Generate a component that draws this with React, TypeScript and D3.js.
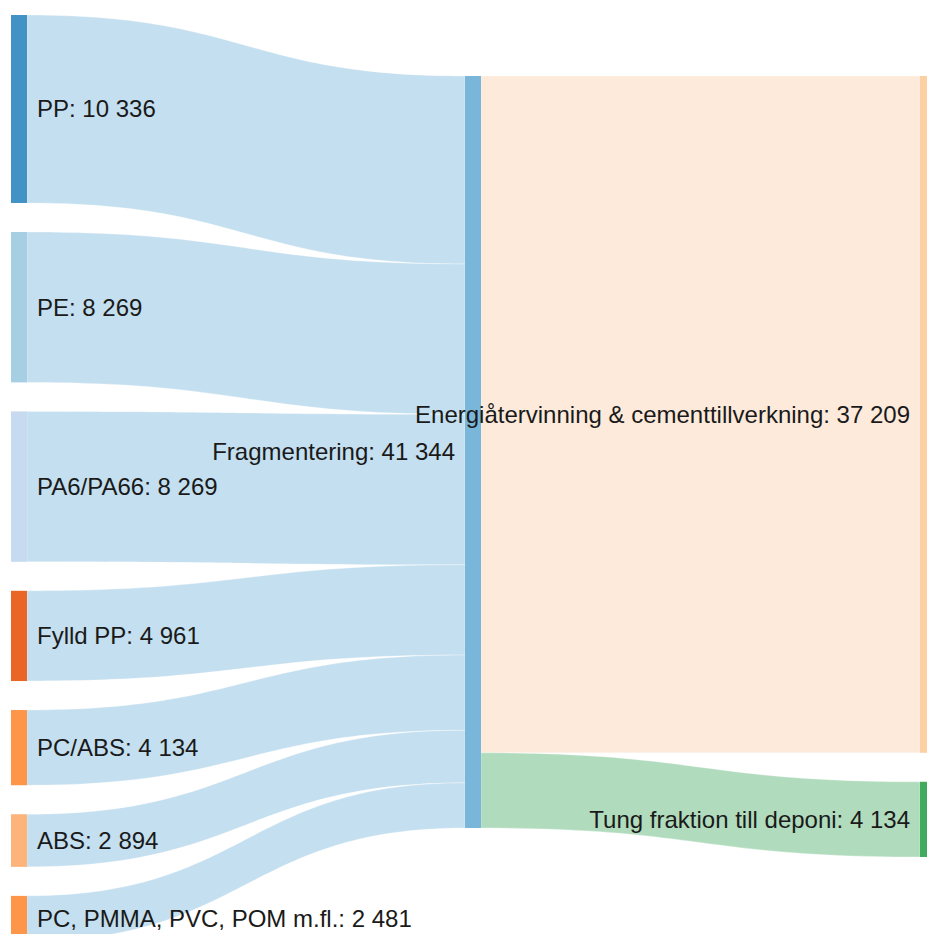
import React from "react";
import * as d3 from "d3";

const nodeNames = [
  "PP",
  "PE",
  "PA6/PA66",
  "Fylld PP",
  "PC/ABS",
  "ABS",
  "PC, PMMA, PVC, POM m.fl.",
  "Fragmentering",
  "Energiåtervinning & cementtillverkning",
  "Tung fraktion till deponi",
];
const nodeColumns = [0, 0, 0, 0, 0, 0, 0, 1, 2, 2];
const nodeColors = [
  "#4292c6",
  "#a6cfe4",
  "#c6dbef",
  "#ea6626",
  "#fd9649",
  "#fdb47a",
  "#fd9649",
  "#7ab5da",
  "#fdd0a2",
  "#41ab5d",
];
const linkSources = [0, 1, 2, 3, 4, 5, 6, 7, 7];
const linkTargets = [7, 7, 7, 7, 7, 7, 7, 8, 9];
const linkValues = [10336, 8269, 8269, 4961, 4134, 2894, 2481, 37209, 4134];
const linkColors = ["#c4dfef", "#c4dfef", "#c4dfef", "#c4dfef", "#c4dfef", "#c4dfef", "#c4dfef", "#fdeada", "#b0dbbc"];

const W = 927;
const H = 934;
const NODE_W = 16;
const PAD = 29;
const columnX = [11, 465, 920];
const columnTop = [15, 76, 76];

const fmt = (v: number) => d3.format(",")(v).replace(/,/g, " ");

export default function App() {
  const nodeValues = nodeNames.map((_, i) => {
    const out = d3.sum(linkValues.filter((_, j) => linkSources[j] === i));
    const inn = d3.sum(linkValues.filter((_, j) => linkTargets[j] === i));
    return Math.max(out, inn);
  });
  const maxTotal = d3.max(d3.range(3).map((c) => d3.sum(nodeValues.filter((_, i) => nodeColumns[i] === c)))) as number;
  const k = d3.scaleLinear().domain([0, maxTotal]).range([0, 752]);

  // node layout
  const nodes = nodeNames.map((name, i) => ({ name, i, col: nodeColumns[i], value: nodeValues[i], x0: 0, x1: 0, y0: 0, y1: 0 }));
  for (let c = 0; c < 3; c++) {
    let y = columnTop[c];
    nodes.filter((n) => n.col === c).forEach((n) => {
      n.x0 = columnX[c];
      n.x1 = columnX[c] + NODE_W;
      n.y0 = y;
      n.y1 = y + k(n.value);
      y = n.y1 + PAD;
    });
  }
  // link layout
  const outOff = nodes.map((n) => n.y0);
  const inOff = nodes.map((n) => n.y0);
  const links = linkValues.map((v, j) => {
    const s = nodes[linkSources[j]];
    const t = nodes[linkTargets[j]];
    const h = k(v);
    const sy0 = outOff[s.i];
    outOff[s.i] += h;
    const ty0 = inOff[t.i];
    inOff[t.i] += h;
    const x0 = s.x1;
    const x1 = t.x0;
    const xm = (x0 + x1) / 2;
    const d = `M${x0},${sy0}C${xm},${sy0} ${xm},${ty0} ${x1},${ty0}L${x1},${ty0 + h}C${xm},${ty0 + h} ${xm},${sy0 + h} ${x0},${sy0 + h}Z`;
    return { d, color: linkColors[j] };
  });

  return (
    <svg width={W} height={H} style={{ position: "absolute", left: 0, top: 0, background: "#fff" }}
      fontFamily="'Liberation Sans', Arial, sans-serif">
      <g>
        {links.map((l, j) => (
          <path key={j} d={l.d} fill={l.color} stroke="#fff" strokeWidth={0.5} strokeOpacity={0.6} />
        ))}
      </g>
      <g>
        {nodes.map((n) => (
          <rect key={n.i} x={n.x0} y={n.y0} width={n.x1 - n.x0} height={n.y1 - n.y0} fill={nodeColors[n.i]} />
        ))}
      </g>
      <g fontSize={24} fill="#1a1a1a">
        {nodes.map((n) => {
          const left = n.col === 0;
          return (
            <text key={n.i} x={left ? n.x1 + 10 : n.x0 - 10} y={(n.y0 + n.y1) / 2} dy="0.35em"
              textAnchor={left ? "start" : "end"}>
              {`${n.name}: ${fmt(n.value)}`}
            </text>
          );
        })}
      </g>
    </svg>
  );
}
